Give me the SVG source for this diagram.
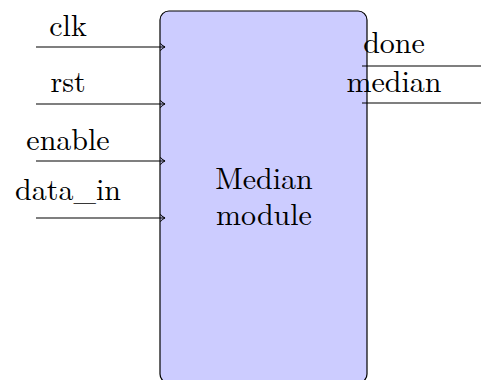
<svg xmlns="http://www.w3.org/2000/svg" width="481" height="380" viewBox="0 0 481 380">
  <style>
    text { font-family: "Latin Modern Roman", "DejaVu Serif", serif; font-size: 30px; fill: #000; }
    .lbl { text-anchor: middle; }
    .wire { stroke: #000; stroke-width: 1.2; fill: none; }
    .block { fill: #ccccff; stroke: #000; stroke-width: 1.2; }
  </style>
  <defs>
    <marker id="arrow" viewBox="0 0 10 10" refX="9" refY="5" markerWidth="6" markerHeight="9" markerUnits="userSpaceOnUse" orient="auto" preserveAspectRatio="none">
      <path d="M1,1 Q5,4 9,5 Q5,6 1,9" fill="none" stroke="#000" stroke-width="1.2"/>
    </marker>
  </defs>

  <g id="median-module">
    <rect class="block" x="160" y="11" width="207" height="372" rx="9" ry="9"/>
    <text class="lbl" x="264" y="189">Median</text>
    <text class="lbl" x="264" y="225">module</text>
  </g>

  <g id="connectors">
    <line class="wire" x1="36" y1="47" x2="165" y2="47" marker-end="url(#arrow)"/>
    <line class="wire" x1="36" y1="104" x2="165" y2="104" marker-end="url(#arrow)"/>
    <line class="wire" x1="36" y1="161" x2="165" y2="161" marker-end="url(#arrow)"/>
    <line class="wire" x1="36" y1="218" x2="165" y2="218" marker-end="url(#arrow)"/>
    <line class="wire" x1="362" y1="66" x2="481" y2="66"/>
    <line class="wire" x1="362" y1="103" x2="481" y2="103"/>
  </g>

  <g id="port-labels">
    <text class="lbl" x="68" y="36">clk</text>
    <text class="lbl" x="68" y="92">rst</text>
    <text class="lbl" x="68" y="150">enable</text>
    <text class="lbl" x="68" y="200">data_in</text>
    <text class="lbl" x="394" y="53">done</text>
    <text class="lbl" x="394" y="92">median</text>
  </g>
</svg>
